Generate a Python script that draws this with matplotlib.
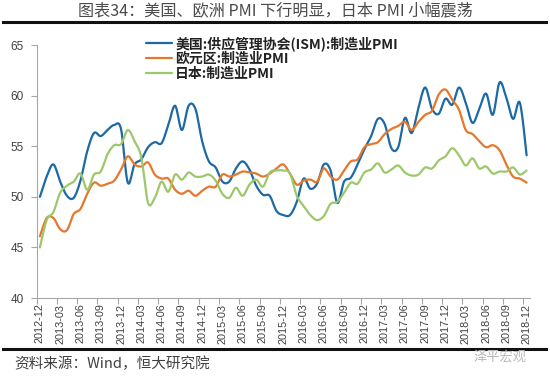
import numpy as np
import pandas as pd
import matplotlib
matplotlib.use("Agg")
import matplotlib.pyplot as plt
from matplotlib.lines import Line2D

plt.rcParams['font.family'] = ['Noto Sans CJK SC', 'DejaVu Sans']

# ---- data ----
months = pd.period_range('2012-12', '2018-12', freq='M').strftime('%Y-%m').tolist()

us_ism = [50.0, 52.0, 53.2, 51.5, 50.1, 49.9, 51.6, 54.5, 56.3, 56.0, 56.6, 57.1, 56.7,
          51.4, 53.2, 53.7, 54.9, 55.4, 55.3, 57.1, 59.0, 56.6, 59.0, 58.7, 55.5,
          53.5, 52.9, 51.5, 51.5, 52.8, 53.5, 52.7, 51.1, 50.2, 50.1, 48.6, 48.2,
          48.2, 49.5, 51.8, 50.8, 51.3, 53.2, 52.6, 49.4, 51.5, 51.9, 53.2, 54.7,
          56.0, 57.7, 57.2, 54.8, 54.9, 57.8, 56.3, 58.8, 60.8, 58.7, 58.2, 59.7,
          59.1, 60.8, 59.3, 57.3, 58.7, 60.2, 58.1, 61.3, 59.8, 57.7, 59.3, 54.1]

euro_pmi = [46.1, 47.9, 47.9, 46.8, 46.7, 48.3, 48.8, 50.3, 51.4, 51.1, 51.3, 51.6, 52.7,
            54.0, 53.2, 53.0, 53.4, 52.2, 51.8, 51.8, 50.7, 50.3, 50.6, 50.1, 50.6,
            51.0, 51.0, 52.2, 52.0, 52.2, 52.5, 52.4, 52.3, 52.0, 52.3, 52.8, 53.2,
            52.3, 51.2, 51.6, 51.7, 51.5, 52.8, 52.0, 51.7, 52.6, 53.5, 53.7, 54.9,
            55.2, 55.4, 56.2, 56.7, 57.0, 57.4, 56.6, 57.4, 58.1, 58.5, 60.1, 60.6,
            59.6, 58.6, 56.6, 56.2, 55.5, 54.9, 55.1, 54.6, 53.2, 52.0, 51.8, 51.4]

japan_pmi = [45.0, 47.7, 48.5, 50.4, 51.1, 51.5, 52.3, 50.7, 52.2, 52.5, 54.2, 55.1, 55.2,
             56.6, 55.5, 53.9, 49.4, 49.9, 51.5, 50.5, 52.2, 51.7, 52.4, 52.0, 52.0,
             52.2, 51.6, 50.3, 49.9, 50.9, 50.1, 51.2, 51.7, 51.0, 52.4, 52.6, 52.6,
             52.3, 50.1, 49.1, 48.2, 47.7, 48.1, 49.3, 49.5, 50.4, 51.4, 51.3, 52.4,
             52.7, 53.3, 52.4, 52.7, 53.1, 52.4, 52.1, 52.2, 52.9, 52.8, 53.6, 54.0,
             54.8, 54.1, 53.1, 53.8, 52.8, 53.0, 52.3, 52.5, 52.5, 52.9, 52.2, 52.6]

series_names = ['美国:供应管理协会(ISM):制造业PMI', '欧元区:制造业PMI', '日本:制造业PMI']
series_colors = ['#1b6aa5', '#e5782c', '#9cc86b']

title_text = '图表34：美国、欧洲 PMI 下行明显，日本 PMI 小幅震荡'
source_text = '资料来源：Wind，恒大研究院'
watermark_text = '泽平宏观'


def smooth(y, n=12):
    """Catmull-Rom (Excel-like) smoothing through the data points."""
    y = np.asarray(y, dtype=float)
    x = np.arange(len(y), dtype=float)
    yp = np.concatenate([[y[0]], y, [y[-1]]])
    xp = np.concatenate([[x[0]], x, [x[-1]]])
    xs, ys = [], []
    t = np.linspace(0, 1, n, endpoint=False)
    for i in range(len(y) - 1):
        p0x, p1x, p2x, p3x = xp[i], xp[i + 1], xp[i + 2], xp[i + 3]
        p0, p1, p2, p3 = yp[i], yp[i + 1], yp[i + 2], yp[i + 3]
        c1x = p1x + (p2x - p0x) / 6
        c2x = p2x - (p3x - p1x) / 6
        c1 = p1 + (p2 - p0) / 6
        c2 = p2 - (p3 - p1) / 6
        b0 = (1 - t) ** 3
        b1 = 3 * (1 - t) ** 2 * t
        b2 = 3 * (1 - t) * t ** 2
        b3 = t ** 3
        xs.append(b0 * p1x + b1 * c1x + b2 * c2x + b3 * p2x)
        ys.append(b0 * p1 + b1 * c1 + b2 * c2 + b3 * p2)
    xs.append([x[-1]])
    ys.append([y[-1]])
    return np.concatenate(xs), np.concatenate(ys)


fig = plt.figure(figsize=(5.5, 3.76), dpi=100)
ax = fig.add_axes([0.0664, 0.2074, 0.8972, 0.6729])

for vals, name, col in zip([us_ism, euro_pmi, japan_pmi], series_names, series_colors):
    sx, sy = smooth(vals)
    ax.plot(sx, sy, color=col, lw=1.6, label=name, solid_capstyle='round')

ax.set_xlim(-0.5, len(months) - 0.5)
ax.set_ylim(40, 65)
ax.set_yticks([40, 45, 50, 55, 60, 65])
ax.set_xticks(np.arange(0, len(months), 3))
ax.set_xticklabels(months[::3], rotation=90, fontsize=7.8, color='#404040',
                   family=['Liberation Sans', 'DejaVu Sans'])
ax.set_xticks(np.arange(-0.5, len(months), 3), minor=True)
ax.tick_params(axis='x', which='major', length=0, pad=4)
ax.tick_params(axis='x', which='minor', length=4, color='#a6a6a6', width=0.8, direction='out')
ax.tick_params(axis='y', length=4, color='#a6a6a6', width=0.8, pad=5)
for lab in ax.get_yticklabels():
    lab.set_fontsize(8.5)
    lab.set_color('#404040')
    lab.set_family(['Liberation Sans', 'DejaVu Sans'])

for s in ['top', 'right']:
    ax.spines[s].set_visible(False)
for s in ['left', 'bottom']:
    ax.spines[s].set_color('#a6a6a6')
    ax.spines[s].set_linewidth(0.8)

leg = ax.legend(loc='upper left', bbox_to_anchor=(146 / 550, 1 - 36 / 376),
                bbox_transform=fig.transFigure, frameon=False, fontsize=10,
                handlelength=1.85, handletextpad=0.25, labelspacing=0.08,
                borderpad=0, borderaxespad=0)
for txt in leg.get_texts():
    txt.set_fontweight('bold')
    txt.set_color('#222222')

# title and rules
fig.text(0.5, 1 - 11 / 376, title_text, ha='center', va='center', fontsize=11.6, color='#4a4a4a')
fig.add_artist(Line2D([3 / 550, 546 / 550], [1 - 22 / 376] * 2, color='#111111', lw=2.2,
                      transform=fig.transFigure))
fig.add_artist(Line2D([3 / 550, 546 / 550], [1 - 349 / 376] * 2, color='#111111', lw=2.2,
                      transform=fig.transFigure))
fig.text(14 / 550, 1 - 364 / 376, source_text, ha='left', va='center', fontsize=10.5,
         color='#404040', style='italic')
fig.text(500 / 550, 1 - 357 / 376, watermark_text, ha='center', va='center', fontsize=9.5,
         color='#b8b8b8')

fig.savefig('out.png', dpi=100)
